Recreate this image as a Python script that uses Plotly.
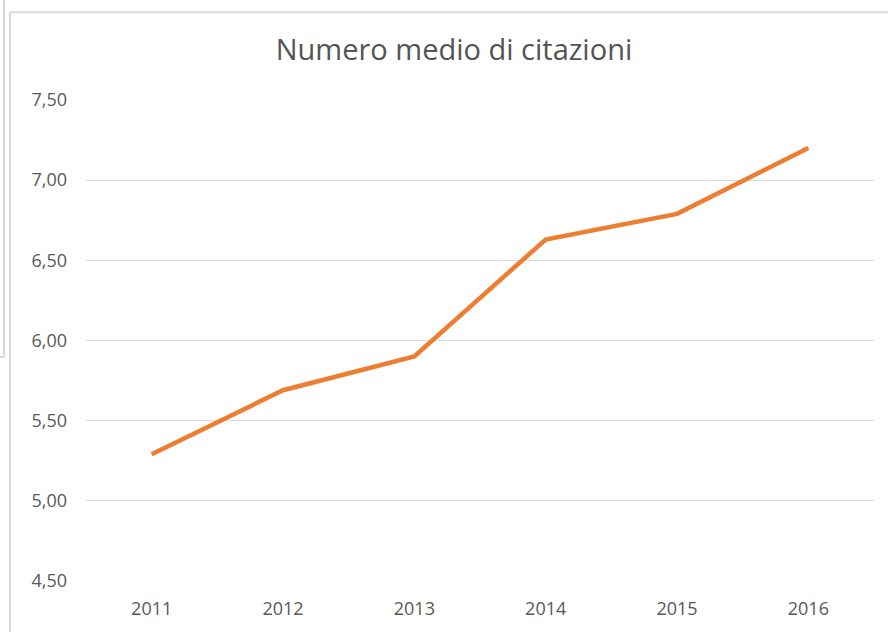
import plotly.graph_objects as go

# Average number of citations per year
anni = ["2011", "2012", "2013", "2014", "2015", "2016"]
citazioni_medie = [5.29, 5.69, 5.90, 6.63, 6.79, 7.20]
y_ticks = [4.5, 5.0, 5.5, 6.0, 6.5, 7.0, 7.5]

W, H = 888, 632
L, R, T, B = 86, 14, 100, 49
GRAY_TEXT = "#595959"
FONT = "Open Sans, Liberation Sans, sans-serif"


def px_x(px):
    return (px - L) / (W - L - R)


def px_y(py):
    return 1 - (py - T) / (H - T - B)


fig = go.Figure(
    go.Scatter(
        x=anni,
        y=citazioni_medie,
        mode="lines",
        line=dict(color="#ED7D31", width=4.5),
        hoverinfo="x+y",
    )
)

# chart frame and the window edge behind it
frame = dict(type="line", xref="paper", yref="paper", layer="below",
             line=dict(color="#D9D9D9", width=2))
fig.add_shape(**frame, x0=px_x(10), x1=px_x(10), y0=px_y(12), y1=px_y(640))
fig.add_shape(**frame, x0=px_x(10), x1=px_x(900), y0=px_y(12), y1=px_y(12))
fig.add_shape(**frame, x0=px_x(4), x1=px_x(4), y0=px_y(-5), y1=px_y(358))
fig.add_shape(**frame, x0=px_x(-5), x1=px_x(4), y0=px_y(358), y1=px_y(358))

fig.update_layout(
    width=W,
    height=H,
    margin=dict(l=L, r=R, t=T, b=B),
    paper_bgcolor="white",
    plot_bgcolor="white",
    separators=",.",
    showlegend=False,
    font=dict(family=FONT, color=GRAY_TEXT),
    title=dict(
        text="Numero medio di citazioni",
        x=px_x(454), xref="paper", xanchor="center",
        y=1 - 50 / H, yanchor="middle",
        font=dict(size=29, color="#545454", family=FONT),
    ),
    xaxis=dict(
        type="category",
        range=[-0.5, 5.5],
        showgrid=False,
        zeroline=False,
        showline=False,
        ticks="",
        tickfont=dict(size=18, color=GRAY_TEXT),
        ticklabelstandoff=15,
    ),
    yaxis=dict(
        range=[4.5, 7.5],
        tickvals=y_ticks,
        tickformat=".2f",
        showgrid=True,
        gridcolor="#D9D9D9",
        gridwidth=1,
        zeroline=False,
        showline=False,
        ticks="",
        tickfont=dict(size=18, color=GRAY_TEXT),
        ticklabelstandoff=18,
    ),
)

fig.write_html("out.html")
